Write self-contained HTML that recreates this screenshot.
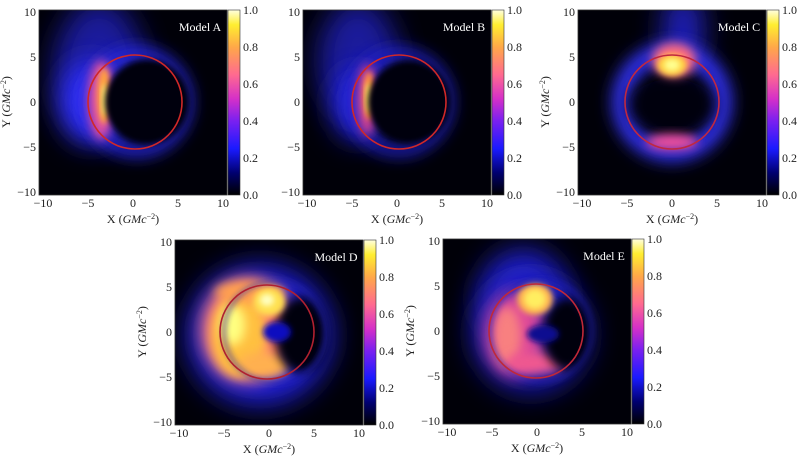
<!DOCTYPE html>
<html><head><meta charset="utf-8"><style>
html,body{margin:0;padding:0;background:#fff;}
svg{display:block;}
text{font-family:"Liberation Serif",serif;font-size:12px;fill:#222;}
.w{fill:#fff;font-size:12px;}
</style></head><body>
<svg width="800" height="458" viewBox="0 0 800 458" xmlns="http://www.w3.org/2000/svg">
<defs>
<clipPath id="cp"><rect x="0" y="0" width="188" height="185"/></clipPath>
<filter id="b3" x="-50%" y="-50%" width="200%" height="200%"><feGaussianBlur stdDeviation="3"/></filter>
<filter id="b5" x="-50%" y="-50%" width="200%" height="200%"><feGaussianBlur stdDeviation="5"/></filter>
<filter id="b8" x="-50%" y="-50%" width="200%" height="200%"><feGaussianBlur stdDeviation="8"/></filter>
<filter id="b14" x="-80%" y="-80%" width="260%" height="260%"><feGaussianBlur stdDeviation="14"/></filter>
<linearGradient id="cm" x1="0" y1="1" x2="0" y2="0">
<stop offset="0" stop-color="#000000"/>
<stop offset="0.12" stop-color="#000070"/>
<stop offset="0.25" stop-color="#1a1aff"/>
<stop offset="0.4" stop-color="#7a20f0"/>
<stop offset="0.52" stop-color="#d530c8"/>
<stop offset="0.65" stop-color="#ff6a90"/>
<stop offset="0.8" stop-color="#ffa848"/>
<stop offset="0.92" stop-color="#ffee30"/>
<stop offset="1" stop-color="#ffffe0"/>
</linearGradient>
</defs>

<!-- Panel A -->
<g transform="translate(39,10)">
<g clip-path="url(#cp)">
<rect width="188" height="185" fill="#000008"/>
<ellipse cx="60" cy="60" rx="45" ry="70" fill="#2020c0" opacity="0.8" filter="url(#b14)"/>
<ellipse cx="52" cy="92" rx="30" ry="40" fill="#3030ff" filter="url(#b14)"/>
<circle cx="98" cy="92" r="48" stroke="#2828e0" stroke-width="14" fill="none" filter="url(#b8)"/>
<ellipse cx="62" cy="90" rx="13" ry="40" fill="#e050a0" filter="url(#b5)"/>
<ellipse cx="65" cy="86" rx="7" ry="28" fill="#ffa040" filter="url(#b3)"/>
<ellipse cx="66" cy="90" rx="3" ry="16" fill="#ffff90" filter="url(#b3)"/>
<circle cx="108" cy="92" r="42" fill="#000008" filter="url(#b3)"/>
<circle cx="96" cy="92" r="47" stroke="#d02828" stroke-width="1.6" fill="none"/>
</g>
<rect width="188" height="185" fill="none" stroke="#333" stroke-width="0.8"/>
<text class="w" x="161" y="21" text-anchor="middle">Model A</text>
<rect x="189" y="0" width="12" height="185" fill="url(#cm)" stroke="#333" stroke-width="0.6"/>
<text x="204" y="4">1.0</text><text x="204" y="41">0.8</text><text x="204" y="78">0.6</text><text x="204" y="115">0.4</text><text x="204" y="152">0.2</text><text x="204" y="189">0.0</text>
<text x="4" y="197" text-anchor="middle">−10</text><text x="49" y="197" text-anchor="middle">−5</text><text x="94" y="197" text-anchor="middle">0</text><text x="139" y="197" text-anchor="middle">5</text><text x="184" y="197" text-anchor="middle">10</text>
<text x="-3" y="6" text-anchor="end">10</text><text x="-3" y="51" text-anchor="end">5</text><text x="-3" y="96" text-anchor="end">0</text><text x="-3" y="141" text-anchor="end">−5</text><text x="-3" y="186" text-anchor="end">−10</text>
<text x="94" y="213" text-anchor="middle">X (<tspan font-style="italic">GMc</tspan><tspan dy="-4" font-size="8">−2</tspan><tspan dy="4">)</tspan></text>
<text transform="translate(-29,92) rotate(-90)" text-anchor="middle">Y (<tspan font-style="italic">GMc</tspan><tspan dy="-4" font-size="8">−2</tspan><tspan dy="4">)</tspan></text>
</g>

<!-- Panel B -->
<g transform="translate(303,10)">
<g clip-path="url(#cp)">
<rect width="188" height="185" fill="#000008"/>
<ellipse cx="55" cy="50" rx="40" ry="60" fill="#2020c0" opacity="0.8" filter="url(#b14)"/>
<ellipse cx="55" cy="95" rx="25" ry="35" fill="#2828e0" filter="url(#b14)"/>
<circle cx="96" cy="92" r="48" stroke="#2222d0" stroke-width="12" fill="none" filter="url(#b8)"/>
<ellipse cx="64" cy="90" rx="10" ry="36" fill="#d04090" filter="url(#b5)"/>
<ellipse cx="66" cy="86" rx="6" ry="24" fill="#ff9040" filter="url(#b3)"/>
<ellipse cx="66" cy="88" rx="3" ry="15" fill="#ffff80" filter="url(#b3)"/>
<circle cx="106" cy="92" r="41" fill="#000008" filter="url(#b3)"/>
<circle cx="96" cy="92" r="47" stroke="#d02828" stroke-width="1.6" fill="none"/>
</g>
<rect width="188" height="185" fill="none" stroke="#333" stroke-width="0.8"/>
<text class="w" x="161" y="21" text-anchor="middle">Model B</text>
<rect x="189" y="0" width="12" height="185" fill="url(#cm)" stroke="#333" stroke-width="0.6"/>
<text x="204" y="4">1.0</text><text x="204" y="41">0.8</text><text x="204" y="78">0.6</text><text x="204" y="115">0.4</text><text x="204" y="152">0.2</text><text x="204" y="189">0.0</text>
<text x="4" y="197" text-anchor="middle">−10</text><text x="49" y="197" text-anchor="middle">−5</text><text x="94" y="197" text-anchor="middle">0</text><text x="139" y="197" text-anchor="middle">5</text><text x="184" y="197" text-anchor="middle">10</text>
<text x="-3" y="6" text-anchor="end">10</text><text x="-3" y="51" text-anchor="end">5</text><text x="-3" y="96" text-anchor="end">0</text><text x="-3" y="141" text-anchor="end">−5</text><text x="-3" y="186" text-anchor="end">−10</text>
<text x="94" y="213" text-anchor="middle">X (<tspan font-style="italic">GMc</tspan><tspan dy="-4" font-size="8">−2</tspan><tspan dy="4">)</tspan></text>
</g>

<!-- Panel C -->
<g transform="translate(578,10)">
<g clip-path="url(#cp)">
<rect width="188" height="185" fill="#000008"/>
<ellipse cx="105" cy="20" rx="20" ry="40" fill="#2020c0" filter="url(#b14)"/>
<circle cx="94" cy="92" r="50" stroke="#3030f0" stroke-width="20" fill="none" filter="url(#b8)"/>
<ellipse cx="94" cy="95" rx="42" ry="26" fill="#000008" filter="url(#b8)"/>
<ellipse cx="96" cy="50" rx="22" ry="17" fill="#ff6a80" filter="url(#b5)"/>
<ellipse cx="94" cy="55" rx="15" ry="11" fill="#ffd040" filter="url(#b3)"/>
<ellipse cx="94" cy="55" rx="8" ry="6" fill="#ffff90" filter="url(#b3)"/>
<ellipse cx="94" cy="132" rx="26" ry="8" fill="#f050a0" filter="url(#b5)"/>
<circle cx="94" cy="92" r="47" stroke="#c02840" stroke-width="1.6" fill="none"/>
</g>
<rect width="188" height="185" fill="none" stroke="#333" stroke-width="0.8"/>
<text class="w" x="161" y="21" text-anchor="middle">Model C</text>
<rect x="189" y="0" width="12" height="185" fill="url(#cm)" stroke="#333" stroke-width="0.6"/>
<text x="204" y="4">1.0</text><text x="204" y="41">0.8</text><text x="204" y="78">0.6</text><text x="204" y="115">0.4</text><text x="204" y="152">0.2</text><text x="204" y="189">0.0</text>
<text x="4" y="197" text-anchor="middle">−10</text><text x="49" y="197" text-anchor="middle">−5</text><text x="94" y="197" text-anchor="middle">0</text><text x="139" y="197" text-anchor="middle">5</text><text x="184" y="197" text-anchor="middle">10</text>
<text x="-3" y="6" text-anchor="end">10</text><text x="-3" y="51" text-anchor="end">5</text><text x="-3" y="96" text-anchor="end">0</text><text x="-3" y="141" text-anchor="end">−5</text><text x="-3" y="186" text-anchor="end">−10</text>
<text x="94" y="213" text-anchor="middle">X (<tspan font-style="italic">GMc</tspan><tspan dy="-4" font-size="8">−2</tspan><tspan dy="4">)</tspan></text>
<text transform="translate(-29,92) rotate(-90)" text-anchor="middle">Y (<tspan font-style="italic">GMc</tspan><tspan dy="-4" font-size="8">−2</tspan><tspan dy="4">)</tspan></text>
</g>

<!-- Panel D -->
<g transform="translate(175,240)">
<g clip-path="url(#cp)">
<rect width="188" height="185" fill="#000008"/>
<ellipse cx="85" cy="95" rx="72" ry="70" fill="#2424e0" filter="url(#b14)"/>
<ellipse cx="72" cy="90" rx="46" ry="52" fill="#ff7a70" filter="url(#b8)"/>
<ellipse cx="64" cy="95" rx="28" ry="42" fill="#ffc040" filter="url(#b5)"/>
<ellipse cx="58" cy="85" rx="12" ry="20" fill="#ffff80" filter="url(#b5)"/>
<ellipse cx="75" cy="52" rx="35" ry="11" fill="#ffa050" filter="url(#b5)"/>
<ellipse cx="88" cy="125" rx="26" ry="13" fill="#ffb050" filter="url(#b5)"/>
<ellipse cx="126" cy="95" rx="26" ry="38" fill="#000010" filter="url(#b5)"/>
<ellipse cx="102" cy="92" rx="14" ry="10" fill="#1010c0" filter="url(#b3)"/>
<ellipse cx="94" cy="62" rx="16" ry="14" fill="#ffe050" filter="url(#b3)"/>
<ellipse cx="92" cy="60" rx="7" ry="6" fill="#ffffc0" filter="url(#b3)"/>
<circle cx="100" cy="92" r="51" stroke="#2020b0" stroke-width="4" fill="none" opacity="0.6" filter="url(#b3)"/>
<circle cx="92" cy="92" r="47" stroke="#b02030" stroke-width="1.6" fill="none"/>
</g>
<rect width="188" height="185" fill="none" stroke="#333" stroke-width="0.8"/>
<text class="w" x="161" y="21" text-anchor="middle">Model D</text>
<rect x="189" y="0" width="12" height="185" fill="url(#cm)" stroke="#333" stroke-width="0.6"/>
<text x="204" y="4">1.0</text><text x="204" y="41">0.8</text><text x="204" y="78">0.6</text><text x="204" y="115">0.4</text><text x="204" y="152">0.2</text><text x="204" y="189">0.0</text>
<text x="4" y="197" text-anchor="middle">−10</text><text x="49" y="197" text-anchor="middle">−5</text><text x="94" y="197" text-anchor="middle">0</text><text x="139" y="197" text-anchor="middle">5</text><text x="184" y="197" text-anchor="middle">10</text>
<text x="-3" y="6" text-anchor="end">10</text><text x="-3" y="51" text-anchor="end">5</text><text x="-3" y="96" text-anchor="end">0</text><text x="-3" y="141" text-anchor="end">−5</text><text x="-3" y="186" text-anchor="end">−10</text>
<text x="94" y="213" text-anchor="middle">X (<tspan font-style="italic">GMc</tspan><tspan dy="-4" font-size="8">−2</tspan><tspan dy="4">)</tspan></text>
<text transform="translate(-29,92) rotate(-90)" text-anchor="middle">Y (<tspan font-style="italic">GMc</tspan><tspan dy="-4" font-size="8">−2</tspan><tspan dy="4">)</tspan></text>
</g>

<!-- Panel E -->
<g transform="translate(443,239)">
<g clip-path="url(#cp)">
<rect width="188" height="185" fill="#000008"/>
<ellipse cx="80" cy="60" rx="45" ry="50" fill="#2020c8" filter="url(#b14)"/>
<ellipse cx="88" cy="95" rx="58" ry="58" fill="#1c1cc0" filter="url(#b14)"/>
<ellipse cx="72" cy="95" rx="30" ry="42" fill="#e04898" filter="url(#b8)"/>
<ellipse cx="64" cy="98" rx="14" ry="30" fill="#f88080" filter="url(#b5)"/>
<ellipse cx="92" cy="124" rx="30" ry="11" fill="#f05890" filter="url(#b5)"/>
<ellipse cx="124" cy="95" rx="24" ry="36" fill="#000010" filter="url(#b5)"/>
<ellipse cx="100" cy="95" rx="16" ry="9" fill="#0a0a90" filter="url(#b3)"/>
<ellipse cx="92" cy="60" rx="18" ry="16" fill="#ffb050" filter="url(#b3)"/>
<ellipse cx="92" cy="60" rx="11" ry="10" fill="#ffee60" filter="url(#b3)"/>
<circle cx="98" cy="92" r="51" stroke="#2020b0" stroke-width="4" fill="none" opacity="0.6" filter="url(#b3)"/>
<circle cx="93" cy="92" r="47" stroke="#c02838" stroke-width="1.6" fill="none"/>
</g>
<rect width="188" height="185" fill="none" stroke="#333" stroke-width="0.8"/>
<text class="w" x="161" y="21" text-anchor="middle">Model E</text>
<rect x="189" y="0" width="12" height="185" fill="url(#cm)" stroke="#333" stroke-width="0.6"/>
<text x="204" y="4">1.0</text><text x="204" y="41">0.8</text><text x="204" y="78">0.6</text><text x="204" y="115">0.4</text><text x="204" y="152">0.2</text><text x="204" y="189">0.0</text>
<text x="4" y="197" text-anchor="middle">−10</text><text x="49" y="197" text-anchor="middle">−5</text><text x="94" y="197" text-anchor="middle">0</text><text x="139" y="197" text-anchor="middle">5</text><text x="184" y="197" text-anchor="middle">10</text>
<text x="-3" y="6" text-anchor="end">10</text><text x="-3" y="51" text-anchor="end">5</text><text x="-3" y="96" text-anchor="end">0</text><text x="-3" y="141" text-anchor="end">−5</text><text x="-3" y="186" text-anchor="end">−10</text>
<text x="94" y="213" text-anchor="middle">X (<tspan font-style="italic">GMc</tspan><tspan dy="-4" font-size="8">−2</tspan><tspan dy="4">)</tspan></text>
<text transform="translate(-29,92) rotate(-90)" text-anchor="middle">Y (<tspan font-style="italic">GMc</tspan><tspan dy="-4" font-size="8">−2</tspan><tspan dy="4">)</tspan></text>
</g>
</svg>
</body></html>
